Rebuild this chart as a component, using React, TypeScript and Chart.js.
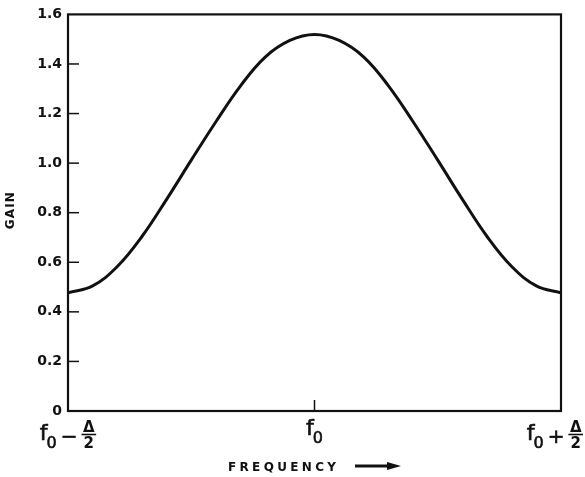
import { useEffect, useRef } from "react";
import { Chart, registerables } from "chart.js";

Chart.register(...registerables);

// Frequency offset from f0, in units of Δ
const xValues = [
  -0.5, -0.45, -0.4, -0.35, -0.3, -0.25, -0.2, -0.15, -0.1, -0.05, 0,
  0.05, 0.1, 0.15, 0.2, 0.25, 0.3, 0.35, 0.4, 0.45, 0.5,
];
// Gain
const gainValues = [
  0.477, 0.505, 0.583, 0.704, 0.854, 1.012, 1.167, 1.312, 1.428, 1.495, 1.519,
  1.495, 1.428, 1.312, 1.167, 1.012, 0.854, 0.704, 0.583, 0.505, 0.477,
];

const yTickValues = [0, 0.2, 0.4, 0.6, 0.8, 1.0, 1.2, 1.4, 1.6];
const yTickLabels = ["0", "0.2", "0.4", "0.6", "0.8", "1.0", "1.2", "1.4", "1.6"];

const xTickValues = [-0.5, 0, 0.5];
const xTickSigns = ["−", "", "+"];
const xTickBase = "f";
const xTickSub = "0";
const xTickNum = "Δ";
const xTickDen = "2";

const yTitle = "GAIN";
const xTitle = "FREQUENCY";

const INK = "#111111";
const FONT = "'DejaVu Sans', sans-serif";

function spacedText(ctx: any, text: string, target: number) {
  (ctx as any).letterSpacing = "0px";
  const w = ctx.measureText(text).width;
  const sp = Math.max(0, (target - w) / Math.max(1, text.length - 1));
  (ctx as any).letterSpacing = sp + "px";
  return sp;
}

const framePlugin = {
  id: "frame",
  afterDraw(chart: any) {
    const { ctx, chartArea: a, scales } = chart;
    const xs = scales.x;
    const ys = scales.y;
    ctx.save();
    ctx.strokeStyle = INK;
    ctx.fillStyle = INK;

    // frame
    ctx.lineWidth = 2.2;
    ctx.strokeRect(a.left, a.top, a.right - a.left, a.bottom - a.top);

    // inward tick marks
    ctx.lineWidth = 1.5;
    yTickValues.forEach((v) => {
      const py = ys.getPixelForValue(v);
      if (Math.abs(py - a.top) < 2 || Math.abs(py - a.bottom) < 2) return;
      ctx.beginPath();
      ctx.moveTo(a.left, py);
      ctx.lineTo(a.left + 11, py);
      ctx.stroke();
    });
    xTickValues.forEach((v) => {
      const px = xs.getPixelForValue(v);
      if (Math.abs(px - a.left) < 2 || Math.abs(px - a.right) < 2) return;
      ctx.beginPath();
      ctx.moveTo(px, a.bottom);
      ctx.lineTo(px, a.bottom - 11);
      ctx.stroke();
    });

    // x tick labels: f0 ± Δ/2
    const fFont = `22px ${FONT}`;
    const subFont = `16px ${FONT}`;
    const signFont = `20px ${FONT}`;
    const fracFont = `bold 15px ${FONT}`;
    ctx.textBaseline = "alphabetic";
    ctx.textAlign = "left";
    xTickValues.forEach((v, i) => {
      const px = xs.getPixelForValue(v);
      const sign = xTickSigns[i];
      ctx.font = fFont;
      const wf = ctx.measureText(xTickBase).width;
      ctx.font = subFont;
      const ws = ctx.measureText(xTickSub).width;
      ctx.font = signFont;
      const wsign = sign ? ctx.measureText(sign).width : 0;
      ctx.font = fracFont;
      const wfrac = Math.max(ctx.measureText(xTickNum).width, ctx.measureText(xTickDen).width) + 3;
      const g1 = 4;
      const g2 = 4;
      const total = wf + ws - 1 + (sign ? g1 + wsign + g2 + wfrac : 0);
      let x0 = px - total / 2;
      if (x0 + total > chart.width - 2) x0 = chart.width - 2 - total;
      if (x0 < 2) x0 = 2;
      const base = a.bottom + (sign ? 29 : 24);
      ctx.font = fFont;
      ctx.fillText(xTickBase, x0, base);
      ctx.lineWidth = 0.6;
      ctx.strokeText(xTickBase, x0, base);
      ctx.font = subFont;
      ctx.fillText(xTickSub, x0 + wf - 1, base + 8);
      ctx.strokeText(xTickSub, x0 + wf - 1, base + 8);
      if (sign) {
        let xx = x0 + wf - 1 + ws + g1;
        ctx.font = signFont;
        ctx.fillText(sign, xx, base + 3);
        ctx.strokeText(sign, xx, base + 3);
        xx += wsign + g2;
        const cx = xx + wfrac / 2;
        ctx.font = fracFont;
        ctx.textAlign = "center";
        ctx.fillText(xTickNum, cx, base - 8);
        ctx.fillText(xTickDen, cx, base + 8);
        ctx.textAlign = "left";
        ctx.lineWidth = 1.6;
        ctx.beginPath();
        ctx.moveTo(xx, base - 5.5);
        ctx.lineTo(xx + wfrac, base - 5.5);
        ctx.stroke();
      }
    });

    // y title
    ctx.save();
    ctx.font = `bold 12px ${FONT}`;
    const sy = spacedText(ctx, yTitle, 37);
    ctx.textAlign = "center";
    ctx.textBaseline = "middle";
    ctx.translate(11, (a.top + a.bottom) / 2 - 2);
    ctx.rotate(-Math.PI / 2);
    ctx.fillText(yTitle, sy / 2, 0);
    ctx.restore();

    // x title with arrow
    ctx.save();
    ctx.font = `bold 12px ${FONT}`;
    const sx = spacedText(ctx, xTitle, 108);
    const tw = ctx.measureText(xTitle).width - sx;
    const gap = 19;
    const aw = 46;
    const cxm = (a.left + a.right) / 2;
    const start = cxm - (tw + gap + aw) / 2;
    ctx.textAlign = "left";
    ctx.textBaseline = "alphabetic";
    ctx.fillText(xTitle, start, 471);
    const ax = start + tw + gap;
    const ay = 466;
    ctx.lineWidth = 3;
    ctx.beginPath();
    ctx.moveTo(ax, ay);
    ctx.lineTo(ax + aw - 10, ay);
    ctx.stroke();
    ctx.beginPath();
    ctx.moveTo(ax + aw, ay);
    ctx.lineTo(ax + aw - 14, ay - 4);
    ctx.lineTo(ax + aw - 14, ay + 4);
    ctx.closePath();
    ctx.fill();
    ctx.restore();

    ctx.restore();
  },
};

export default function App() {
  const ref = useRef<HTMLCanvasElement>(null);

  useEffect(() => {
    if (!ref.current) return;
    const chart = new Chart(ref.current, {
      type: "line",
      data: {
        datasets: [
          {
            data: xValues.map((x, i) => ({ x, y: gainValues[i] })),
            borderColor: INK,
            borderWidth: 3,
            pointRadius: 0,
            tension: 0.4,
            fill: false,
          },
        ],
      },
      options: {
        responsive: false,
        animation: false,
        layout: { padding: { top: 10, right: 24, left: 0, bottom: 0 } },
        plugins: {
          legend: { display: false },
          tooltip: { enabled: false },
          title: { display: false },
        },
        scales: {
          x: {
            type: "linear",
            min: -0.5,
            max: 0.5,
            grid: { display: false, drawTicks: false },
            border: { display: false },
            ticks: { display: false },
            afterFit: (s: any) => {
              s.height = 66;
            },
          },
          y: {
            type: "linear",
            min: 0,
            max: 1.6,
            grid: { display: false, drawTicks: false, tickLength: 0 },
            border: { display: false },
            afterBuildTicks: (s: any) => {
              s.ticks = yTickValues.map((value) => ({ value }));
            },
            ticks: {
              padding: 6,
              color: INK,
              font: { family: FONT, size: 14, weight: "bold" },
              callback: (_v: any, i: number) => yTickLabels[i],
            },
            afterFit: (s: any) => {
              s.width = 68;
            },
          },
        },
      },
      plugins: [framePlugin],
    });
    return () => chart.destroy();
  }, []);

  return (
    <div style={{ position: "absolute", left: 0, top: 0, width: 585, height: 477, background: "#fff" }}>
      <canvas ref={ref} width={585} height={477} style={{ display: "block" }} />
    </div>
  );
}
